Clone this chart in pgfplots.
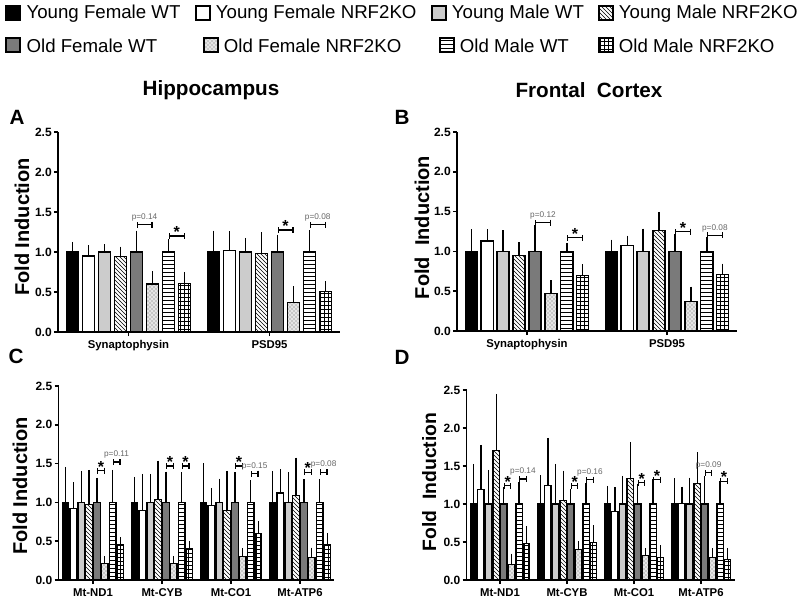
\documentclass[border=0pt]{standalone}
\usepackage{pgfplots}
\pgfplotsset{compat=1.18}
\usepackage{pgfplotstable}
\usepackage{fontspec}
\setmainfont{Liberation Sans}
\usetikzlibrary{patterns,arrows.meta}

\tikzset{
  b1/.style={fill=black},
  b2/.style={fill=white},
  b3/.style={fill=black!20},
  b4/.style={pattern=north west lines},
  b5/.style={fill=black!52},
  b6/.style={preaction={fill=black!10}, pattern=crosshatch dots, pattern color=black!60},
  b7/.style={pattern=horizontal lines},
  b8/.style={pattern=grid},
  sigline/.style={line width=0.9pt, {Bar[width=4.5pt]}-{Bar[width=4.5pt]}},
  star/.style={font=\fontsize{12}{12}\selectfont\bfseries, inner sep=0pt, anchor=south, yshift=-1.6pt},
  pval/.style={font=\fontsize{6.2}{6.2}\selectfont, text=black!60, inner sep=0pt, anchor=south, yshift=2.2pt},
  legtext/.style={anchor=west, inner sep=0pt, font=\fontsize{14}{16}\selectfont},
}

\pgfplotsset{
  p1/.style={b1, draw=black, line width=0.9pt, bar shift=-0.399},
  p2/.style={b2, draw=black, line width=0.9pt, bar shift=-0.285},
  p3/.style={b3, draw=black, line width=0.9pt, bar shift=-0.171},
  p4/.style={b4, draw=black, line width=0.9pt, bar shift=-0.057},
  p5/.style={b5, draw=black, line width=0.9pt, bar shift=0.057},
  p6/.style={b6, draw=black, line width=0.9pt, bar shift=0.171},
  p7/.style={b7, draw=black, line width=0.9pt, bar shift=0.285},
  p8/.style={b8, draw=black, line width=0.9pt, bar shift=0.399},
  errs/.style={/pgfplots/error bars/y dir=plus, /pgfplots/error bars/y explicit,
    /pgfplots/error bars/error bar style={line width=0.9pt, black, solid},
    /pgfplots/error bars/error mark options={line width=0.9pt, black, solid, mark size=#1}},
  panel/.style={
    scale only axis, ybar, clip=false,
    ymin=0, ymax=2.5, ytick={0,0.5,1,1.5,2,2.5},
    enlargelimits=false,
    axis lines=left, axis line style={-, line width=1.2pt},
    every tick/.style={black, line width=1.2pt}, tick align=outside, major tick length=3pt,
    yticklabel style={/pgf/number format/fixed, /pgf/number format/fixed zerofill, /pgf/number format/precision=1},
    /pgf/number format/assume math mode=true,
    yticklabel style={font=\fontsize{9}{10}\selectfont\bfseries, inner sep=1.5pt},
    xticklabel style={font=\fontsize{8.5}{10}\selectfont\bfseries},
    ylabel style={font=\fontsize{15}{17}\selectfont\bfseries, anchor=center},
  },
}

\pgfplotstableread{
x y1 t1 y2 t2 y3 t3 y4 t4 y5 t5 y6 t6 y7 t7 y8 t8
0 1.00 1.08 0.95 1.04 1.00 1.05 0.94 1.02 1.00 1.22 0.60 0.71 1.00 1.11 0.61 0.70
1 1.00 1.22 1.02 1.21 1.00 1.13 0.98 1.20 1.00 1.17 0.37 0.525 1.00 1.225 0.51 0.59
}\tA
\pgfplotstableread{
x y1 t1 y2 t2 y3 t3 y4 t4 y5 t5 y6 t6 y7 t7 y8 t8
0 1.00 1.23 1.13 1.23 1.00 1.22 0.945 1.07 1.00 1.28 0.47 0.59 1.00 1.06 0.70 0.79
1 1.00 1.10 1.07 1.15 1.00 1.24 1.26 1.45 1.00 1.17 0.37 0.51 1.00 1.14 0.71 0.80
}\tB
\pgfplotstableread{
x y1 t1 y2 t2 y3 t3 y4 t4 y5 t5 y6 t6 y7 t7 y8 t8
0 1.00 1.42 0.92 1.22 1.00 1.37 0.97 1.38 1.00 1.28 0.21 0.27 1.00 1.38 0.45 0.51
1 1.00 1.29 0.90 1.33 1.00 1.33 1.04 1.50 1.00 1.36 0.21 0.27 1.00 1.35 0.40 0.46
2 1.00 1.47 0.96 1.15 1.00 1.27 0.90 1.37 1.00 1.35 0.30 0.37 1.00 1.25 0.60 0.72
3 1.00 1.37 1.12 1.39 1.00 1.35 1.09 1.54 1.00 1.26 0.29 0.38 1.00 1.26 0.46 0.57
}\tC
\pgfplotstableread{
x y1 t1 y2 t2 y3 t3 y4 t4 y5 t5 y6 t6 y7 t7 y8 t8
0 1.00 1.49 1.19 1.74 1.00 1.41 1.70 2.41 1.00 1.18 0.20 0.31 1.00 1.25 0.48 0.67
1 1.00 1.34 1.24 1.83 1.00 1.49 1.05 1.40 1.00 1.16 0.40 0.47 1.00 1.24 0.49 0.68
2 1.00 1.20 0.90 1.18 1.00 1.33 1.34 1.78 1.00 1.23 0.32 0.38 1.00 1.29 0.30 0.42
3 1.00 1.30 1.01 1.19 1.00 1.31 1.27 1.64 1.00 1.33 0.30 0.38 1.00 1.26 0.27 0.38
}\tD

\begin{document}
\begin{tikzpicture}
\useasboundingbox (0,0) rectangle (600pt,450.75pt);

% legend
\begin{scope}[line width=0.9pt]
\def\bh{5.25pt}
\draw[b1] (4.5pt,441pt-\bh) rectangle ++(10.5pt,10.5pt);
\node[legtext] at (19.5pt,440.5pt) {Young Female WT};
\draw[b2] (147pt,441pt-\bh) rectangle ++(10.5pt,10.5pt);
\node[legtext] at (161.5pt,440.5pt) {Young Female NRF2KO};
\draw[b3] (324pt,441pt-\bh) rectangle ++(10.5pt,10.5pt);
\node[legtext] at (338.5pt,440.5pt) {Young Male WT};
\draw[b4] (449.25pt,441pt-\bh) rectangle ++(10.5pt,10.5pt);
\node[legtext] at (463.75pt,440.5pt) {Young Male NRF2KO};
\draw[b5] (4.5pt,417pt-\bh) rectangle ++(10.5pt,10.5pt);
\node[legtext] at (19.5pt,416.5pt) {Old Female WT};
\draw[b6] (153pt,417pt-\bh) rectangle ++(10.5pt,10.5pt);
\node[legtext] at (167.5pt,416.5pt) {Old Female NRF2KO};
\draw[b7] (330pt,417pt-\bh) rectangle ++(10.5pt,10.5pt);
\node[legtext] at (344.5pt,416.5pt) {Old Male WT};
\draw[b8] (449.25pt,417pt-\bh) rectangle ++(10.5pt,10.5pt);
\node[legtext] at (463.75pt,416.5pt) {Old Male NRF2KO};
\end{scope}

% titles and letters
\node[font=\fontsize{15.5}{18}\selectfont\bfseries] at (158.25pt,383.25pt) {Hippocampus};
\node[font=\fontsize{15.5}{18}\selectfont\bfseries] at (441.75pt,383.25pt) {Frontal\hspace{0.55em}Cortex};
\node[font=\fontsize{15.5}{18}\selectfont\bfseries] at (12.75pt,363pt) {A};
\node[font=\fontsize{15.5}{18}\selectfont\bfseries] at (301.5pt,363pt) {B};
\node[font=\fontsize{15.5}{18}\selectfont\bfseries] at (12pt,183.5pt) {C};
\node[font=\fontsize{15.5}{18}\selectfont\bfseries] at (301.5pt,183pt) {D};

% Panel A
\begin{axis}[panel, at={(43.5pt,201.75pt)}, anchor=south west,
  width=211.5pt, height=150pt, bar width=0.086,
  xmin=-0.5, xmax=1.5, xtick={0,1}, xticklabels={Synaptophysin,PSD95},
  ylabel={Fold Induction}, ylabel style={at={(axis description cs:-0.128,0.525)}}]
\pgfplotsinvokeforeach{1,2,3,4,5,6,7,8}{
  \addplot[p#1, errs=2.8pt] table[x=x, y=y#1, y error expr=\thisrow{t#1}-\thisrow{y#1}] {\tA};
}
\draw[sigline] (axis cs:0.057,1.34) -- (axis cs:0.171,1.34) node[midway,pval]{p=0.14};
\draw[sigline] (axis cs:0.285,1.20) -- (axis cs:0.399,1.20) node[midway,star]{*};
\draw[sigline] (axis cs:1.057,1.275) -- (axis cs:1.171,1.275) node[midway,star]{*};
\draw[sigline] (axis cs:1.285,1.34) -- (axis cs:1.399,1.34) node[midway,pval]{p=0.08};
\end{axis}

% Panel B
\begin{axis}[panel, at={(342.75pt,202.5pt)}, anchor=south west,
  width=210pt, height=149.25pt, bar width=0.086,
  xmin=-0.5, xmax=1.5, xtick={0,1}, xticklabels={Synaptophysin,PSD95},
  ylabel={Fold\ \ Induction}, ylabel style={at={(axis description cs:-0.125,0.52)}}]
\pgfplotsinvokeforeach{1,2,3,4,5,6,7,8}{
  \addplot[p#1, errs=2.8pt] table[x=x, y=y#1, y error expr=\thisrow{t#1}-\thisrow{y#1}] {\tB};
}
\draw[sigline] (axis cs:0.057,1.36) -- (axis cs:0.171,1.36) node[midway,pval]{p=0.12};
\draw[sigline] (axis cs:0.285,1.17) -- (axis cs:0.399,1.17) node[midway,star]{*};
\draw[sigline] (axis cs:1.057,1.25) -- (axis cs:1.171,1.25) node[midway,star]{*};
\draw[sigline] (axis cs:1.285,1.20) -- (axis cs:1.399,1.20) node[midway,pval]{p=0.08};
\end{axis}

% Panel C
\begin{axis}[panel, at={(43.875pt,15.75pt)}, anchor=south west,
  width=207pt, height=145.5pt, bar width=0.094,
  xmin=-0.5, xmax=3.5, xtick={0,1,2,3}, xticklabels={Mt-ND1,Mt-CYB,Mt-CO1,Mt-ATP6},
  ylabel={Fold Induction}, ylabel style={at={(axis description cs:-0.14,0.485)}}]
\pgfplotsinvokeforeach{1,2,3,4,5,6,7,8}{
  \addplot[p#1, errs=2.2pt] table[x=x, y=y#1, y error expr=\thisrow{t#1}-\thisrow{y#1}] {\tC};
}
\draw[sigline] (axis cs:0.057,1.41) -- (axis cs:0.171,1.41) node[midway,star]{*};
\draw[sigline] (axis cs:0.285,1.52) -- (axis cs:0.399,1.52) node[midway,pval]{p=0.11};
\draw[sigline] (axis cs:1.057,1.47) -- (axis cs:1.171,1.47) node[midway,star]{*};
\draw[sigline] (axis cs:1.285,1.47) -- (axis cs:1.399,1.47) node[midway,star]{*};
\draw[sigline] (axis cs:2.057,1.47) -- (axis cs:2.171,1.47) node[midway,star]{*};
\draw[sigline] (axis cs:2.285,1.37) -- (axis cs:2.399,1.37) node[midway,pval]{p=0.15};
\draw[sigline] (axis cs:3.057,1.39) -- (axis cs:3.171,1.39) node[midway,star]{*};
\draw[sigline] (axis cs:3.285,1.39) -- (axis cs:3.399,1.39) node[midway,pval]{p=0.08};
\end{axis}

% Panel D
\begin{axis}[panel, at={(349.875pt,15.75pt)}, anchor=south west,
  width=201pt, height=142.5pt, bar width=0.094,
  xmin=-0.5, xmax=3.5, xtick={0,1,2,3}, xticklabels={Mt-ND1,Mt-CYB,Mt-CO1,Mt-ATP6},
  ylabel={Fold\ \ Induction}, ylabel style={at={(axis description cs:-0.139,0.516)}, font=\fontsize{14.5}{17}\selectfont\bfseries}]
\pgfplotsinvokeforeach{1,2,3,4,5,6,7,8}{
  \addplot[p#1, errs=2.2pt] table[x=x, y=y#1, y error expr=\thisrow{t#1}-\thisrow{y#1}] {\tD};
}
\draw[sigline] (axis cs:0.057,1.24) -- (axis cs:0.171,1.24) node[midway,star]{*};
\draw[sigline] (axis cs:0.285,1.33) -- (axis cs:0.399,1.33) node[midway,pval]{p=0.14};
\draw[sigline] (axis cs:1.057,1.24) -- (axis cs:1.171,1.24) node[midway,star]{*};
\draw[sigline] (axis cs:1.285,1.32) -- (axis cs:1.399,1.32) node[midway,pval]{p=0.16};
\draw[sigline] (axis cs:2.057,1.28) -- (axis cs:2.171,1.28) node[midway,star]{*};
\draw[sigline] (axis cs:2.285,1.32) -- (axis cs:2.399,1.32) node[midway,star]{*};
\draw[sigline] (axis cs:3.057,1.41) -- (axis cs:3.171,1.41) node[midway,pval]{p=0.09};
\draw[sigline] (axis cs:3.285,1.30) -- (axis cs:3.399,1.30) node[midway,star]{*};
\end{axis}
\end{tikzpicture}
\end{document}
